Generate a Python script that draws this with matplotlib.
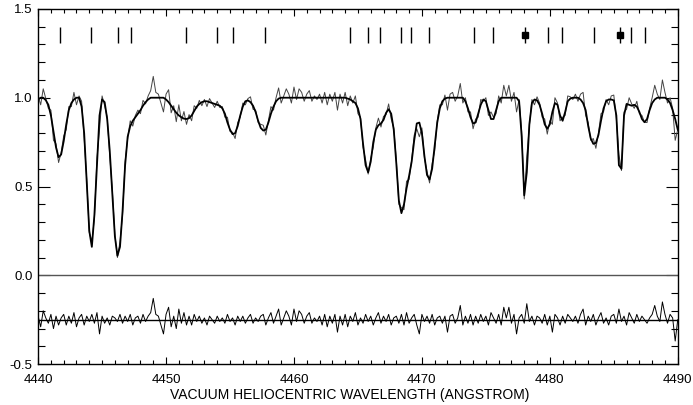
import numpy as np
import matplotlib.pyplot as plt
from matplotlib.ticker import MultipleLocator

plt.rcParams['font.family'] = ['Liberation Sans', 'DejaVu Sans']

# wavelength grid of the spectrum (Angstrom, 0.2 A sampling)
wave = np.linspace(4440.0, 4490.0, 251)

# fitted model spectrum
model = [
    0.99, 1.00, 1.00, 0.986, 0.96, 0.90, 0.81, 0.72, 0.665, 0.68,
    0.755, 0.85, 0.93, 0.97, 0.99, 1.00, 1.00, 0.95, 0.80, 0.52,
    0.25, 0.16, 0.34, 0.62, 0.90, 0.99, 0.975, 0.88, 0.70, 0.46,
    0.22, 0.11, 0.16, 0.36, 0.62, 0.78, 0.84, 0.87, 0.89, 0.91,
    0.93, 0.955, 0.975, 0.99, 1.00, 1.00, 1.00, 1.00, 1.00, 1.00,
    0.99, 0.975, 0.955, 0.935, 0.915, 0.90, 0.89, 0.882, 0.88, 0.885,
    0.90, 0.925, 0.95, 0.965, 0.975, 0.98, 0.98, 0.975, 0.97, 0.965,
    0.96, 0.955, 0.94, 0.91, 0.86, 0.82, 0.795, 0.80, 0.84, 0.90,
    0.95, 0.98, 0.985, 0.975, 0.955, 0.92, 0.87, 0.83, 0.815, 0.82,
    0.86, 0.91, 0.95, 0.98, 0.995, 1.00, 1.00, 1.00, 1.00, 1.00,
    1.00, 1.00, 1.00, 1.00, 1.00, 1.00, 1.00, 1.00, 1.00, 1.00,
    1.00, 1.00, 1.00, 1.00, 1.00, 1.00, 1.00, 1.00, 1.00, 1.00,
    1.00, 0.995, 0.99, 0.98, 0.97, 0.94, 0.88, 0.74, 0.62, 0.58,
    0.64, 0.75, 0.82, 0.845, 0.855, 0.875, 0.915, 0.935, 0.91, 0.82,
    0.63, 0.42, 0.35, 0.40, 0.49, 0.56, 0.64, 0.76, 0.855, 0.86,
    0.80, 0.67, 0.565, 0.54, 0.60, 0.73, 0.86, 0.94, 0.98, 0.995,
    1.00, 1.00, 1.00, 1.00, 1.00, 1.00, 1.00, 0.98, 0.94, 0.89,
    0.855, 0.86, 0.91, 0.96, 0.99, 0.98, 0.93, 0.88, 0.88, 0.93,
    0.98, 1.00, 1.00, 1.00, 1.00, 1.00, 1.00, 1.00, 0.98, 0.78,
    0.45, 0.58, 0.85, 0.97, 0.99, 0.985, 0.96, 0.91, 0.85, 0.825,
    0.85, 0.92, 0.97, 0.96, 0.90, 0.87, 0.92, 0.98, 0.995, 1.00,
    1.00, 1.00, 0.99, 0.97, 0.93, 0.84, 0.77, 0.74, 0.745, 0.79,
    0.87, 0.94, 0.98, 0.99, 0.99, 0.985, 0.90, 0.62, 0.60, 0.90,
    0.965, 0.96, 0.955, 0.96, 0.95, 0.92, 0.88, 0.862, 0.88, 0.93,
    0.97, 0.99, 1.00, 1.00, 1.00, 1.00, 0.99, 0.97, 0.93, 0.88,
    0.82,
]

resid = [
    0.02, -0.04, 0.05, 0.01, -0.02, 0.03, -0.05, 0.02, -0.03, 0.01,
    0.03, -0.03, 0.02, -0.02, 0.04, -0.04, 0.01, 0.03, -0.03, 0.02,
    -0.01, 0.03, -0.02, 0.04, -0.08, 0.02, -0.02, 0.01, -0.03, 0.02,
    0.01, -0.01, 0.03, -0.02, 0.02, -0.01, 0.03, -0.03, 0.01, 0.02,
    -0.02, 0.03, -0.01, 0.02, 0.04, 0.12, 0.03, 0.02, -0.03, -0.08,
    0.03, 0.07, -0.04, 0.02, -0.05, 0.06, -0.02, 0.04, -0.03, 0.02,
    -0.03, 0.03, -0.01, 0.02, -0.02, 0.01, -0.03, 0.02, 0.00, -0.02,
    0.02, -0.01, 0.01, -0.02, 0.03, -0.01, 0.01, -0.03, 0.02, -0.01,
    0.02, -0.02, 0.01, 0.03, -0.02, 0.01, -0.01, 0.02, 0.03, -0.03,
    0.01, 0.04, -0.02, 0.02, 0.06, -0.03, 0.01, 0.05, 0.02, -0.03,
    0.06, -0.01, 0.05, 0.03, -0.02, 0.02, 0.04, -0.02, 0.01, -0.01,
    0.02, -0.03, 0.03, -0.04, 0.02, -0.02, 0.03, -0.07, 0.02, -0.03,
    0.03, -0.04, 0.02, -0.01, 0.04, -0.03, 0.01, -0.02, 0.03, -0.01,
    0.02, -0.03, 0.01, 0.04, -0.02, 0.02, -0.01, 0.03, -0.03, 0.01,
    0.02, -0.02, 0.03, -0.03, 0.04, -0.02, 0.01, 0.03, -0.03, -0.08,
    0.03, -0.01, 0.02, -0.02, 0.03, -0.03, 0.01, 0.02, -0.02, 0.02,
    -0.07, 0.02, 0.03, -0.02, 0.01, 0.08, -0.03, 0.02, -0.02, 0.03,
    -0.03, 0.02, -0.02, 0.03, -0.01, 0.02, -0.03, 0.04, 0.01, -0.02,
    0.03, -0.03, 0.07, 0.01, 0.07, -0.02, 0.03, -0.08, 0.01, 0.03,
    -0.02, 0.09, -0.01, 0.02, -0.03, 0.02, 0.01, -0.02, 0.03, -0.03,
    0.02, -0.07, 0.03, 0.01, -0.03, 0.02, -0.02, 0.03, 0.01, -0.01,
    0.02, -0.02, 0.03, 0.06, -0.03, 0.02, -0.01, 0.03, -0.03, 0.01,
    0.04, -0.02, 0.01, -0.03, 0.02, 0.03, -0.02, 0.06, -0.01, 0.02,
    -0.03, 0.04, 0.01, -0.02, 0.03, -0.01, 0.02, 0.00, -0.02, 0.01,
    0.03, 0.08, 0.02, -0.01, 0.10, 0.03, -0.02, 0.03, 0.01, -0.12,
    0.00,
]

# line identifications (top markers); the two blends are flagged with squares
line_pos = [4441.72, 4444.16, 4446.23, 4447.27, 4451.56, 4454.01, 4455.27,
            4457.73, 4464.40, 4465.76, 4466.72, 4468.36, 4469.12, 4470.57,
            4474.06, 4475.52, 4478.07, 4479.82, 4480.99, 4483.44, 4485.52,
            4486.33, 4487.45]
flagged = [4478.07, 4485.52]

resid_offset = -0.25

model = np.array(model)
resid = np.array(resid)
observed = model + resid

fig = plt.figure(figsize=(6.93, 4.05), dpi=100)
ax = fig.add_axes([0.055, 0.101, 0.923, 0.877])

ax.axhline(0.0, color='#555555', lw=1.0)
ax.axhline(resid_offset, color='black', lw=1.0)
ax.plot(wave, resid + resid_offset, color='black', lw=0.7)

ax.plot(wave, observed, color='#444444', lw=0.7)
ax.plot(wave, model, color='black', lw=1.3)

ax.vlines(line_pos, 1.31, 1.40, color='black', lw=1.0)
ax.plot(flagged, [1.355] * len(flagged), 's', color='black', ms=4.5)

ax.set_xlim(4440, 4490)
ax.set_ylim(-0.5, 1.5)
ax.xaxis.set_major_locator(MultipleLocator(10))
ax.xaxis.set_minor_locator(MultipleLocator(1))
ax.yaxis.set_major_locator(MultipleLocator(0.5))
ax.yaxis.set_minor_locator(MultipleLocator(0.1))
ax.yaxis.set_major_formatter(plt.FormatStrFormatter('%.1f'))

ax.tick_params(axis='x', which='major', direction='in', top=True, length=5,
               width=0.8, pad=7, labelsize=9.5)
ax.tick_params(axis='x', which='minor', direction='in', top=True, length=2.7,
               width=0.8)
ax.tick_params(axis='y', which='major', direction='in', right=True, length=8.5,
               width=0.8, pad=4, labelsize=9.5)
ax.tick_params(axis='y', which='minor', direction='in', right=True, length=4.8,
               width=0.8)
for s in ax.spines.values():
    s.set_linewidth(1.0)

ax.set_xlabel('VACUUM HELIOCENTRIC WAVELENGTH (ANGSTROM)', fontsize=10)
ax.xaxis.set_label_coords(0.4875, -0.066)

fig.savefig('out.png', dpi=100)
